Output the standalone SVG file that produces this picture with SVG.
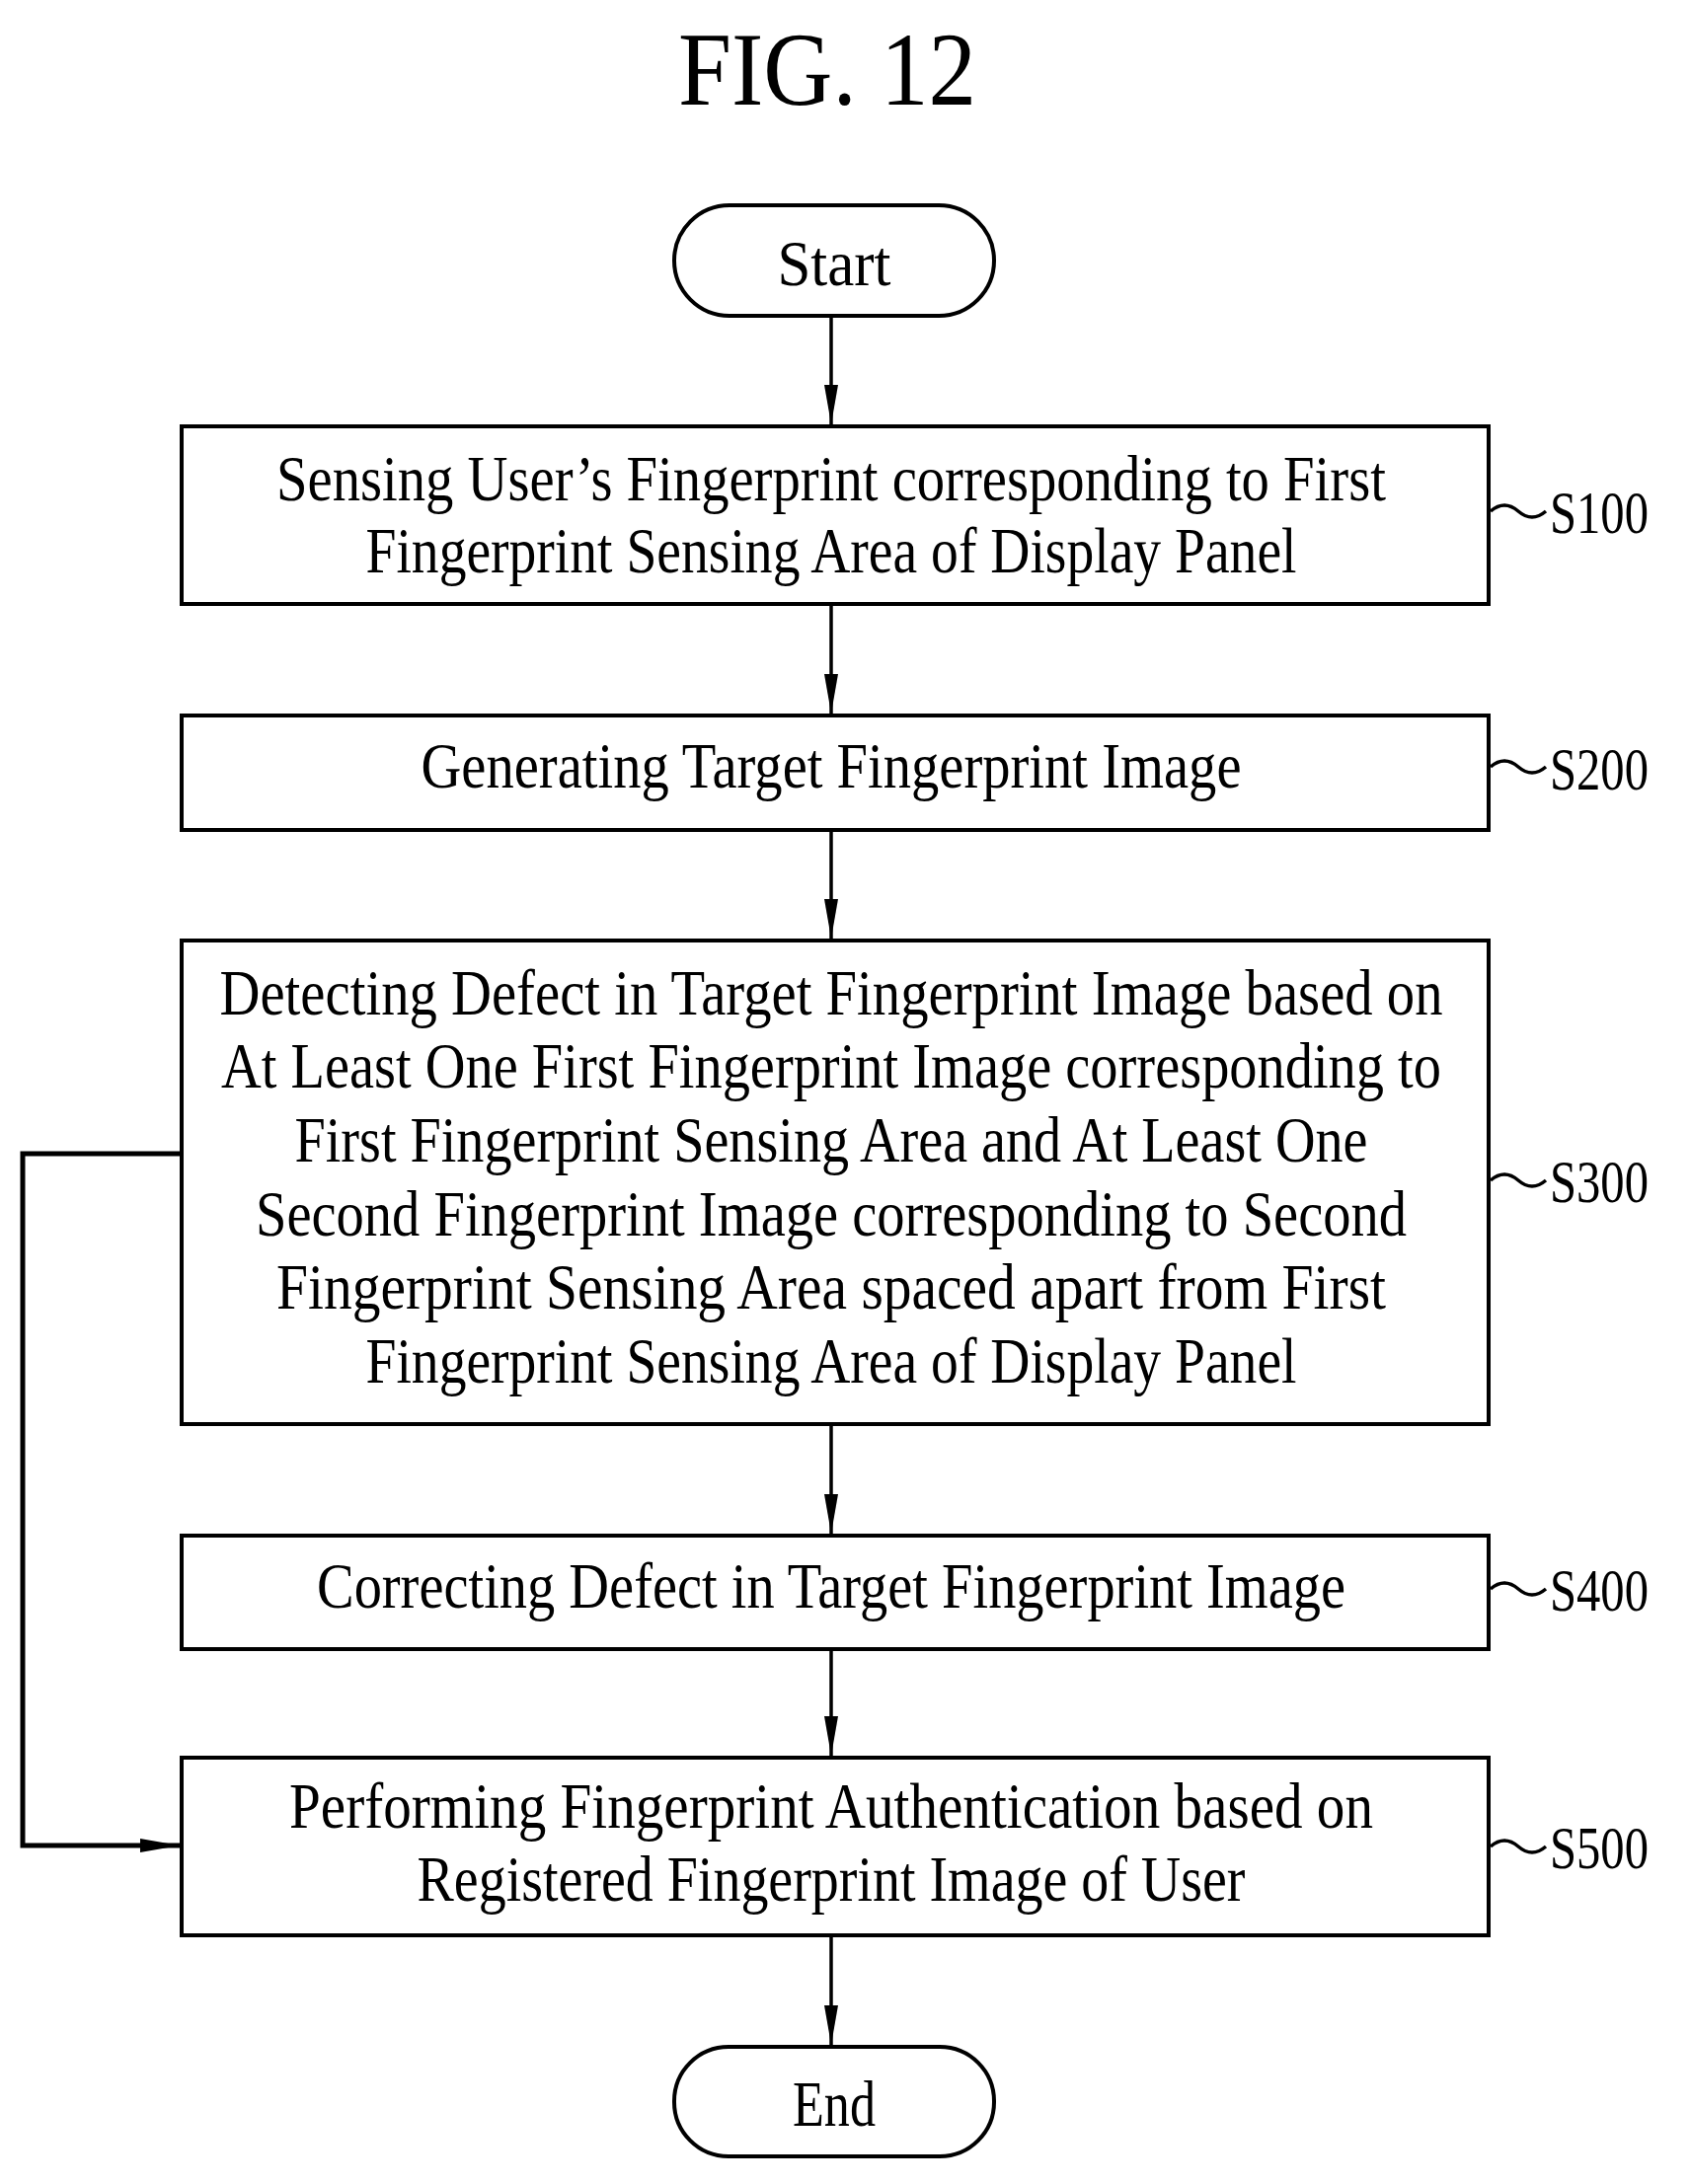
<svg xmlns="http://www.w3.org/2000/svg" width="1712" height="2213" viewBox="0 0 1712 2213">
<style>
text{font-family:"Liberation Serif",serif;fill:#000}
.t{font-size:66px;text-anchor:middle}
.l{font-size:62px}
.b{fill:#fff;stroke:#000;stroke-width:4}
.c{fill:none;stroke:#000;stroke-width:3.5}
</style>
<defs>
<marker id="ah" markerWidth="40" markerHeight="14" refX="40" refY="7" orient="auto" markerUnits="userSpaceOnUse" viewBox="0 0 40 14"><path d="M0,0 L40,7 L0,14 Z" fill="#000"/></marker></defs>
<text x="838" y="106" font-size="105" text-anchor="middle" textLength="302" lengthAdjust="spacingAndGlyphs">FIG. 12</text>
<g id="connectors">
<line class="c" x1="842" y1="320" x2="842" y2="430" marker-end="url(#ah)"/>
<line class="c" x1="842" y1="612" x2="842" y2="723" marker-end="url(#ah)"/>
<line class="c" x1="842" y1="841" x2="842" y2="951" marker-end="url(#ah)"/>
<line class="c" x1="842" y1="1443" x2="842" y2="1554" marker-end="url(#ah)"/>
<line class="c" x1="842" y1="1671" x2="842" y2="1779" marker-end="url(#ah)"/>
<line class="c" x1="842" y1="1961" x2="842" y2="2072" marker-end="url(#ah)"/>
<path class="c" d="M184,1169 H23 V1870 H182" marker-end="url(#ah)" style="stroke-width:5"/>
<path class="c" d="M1510,518 q14,-12 28,0 t28,0"/><path class="c" d="M1510,777 q14,-12 28,0 t28,0"/>
<path class="c" d="M1510,1196 q14,-12 28,0 t28,0"/><path class="c" d="M1510,1610 q14,-12 28,0 t28,0"/>
<path class="c" d="M1510,1871 q14,-12 28,0 t28,0"/>
</g>
<g id="start"><rect class="b" x="683" y="208" width="324" height="112" rx="56"/><text class="t" x="845" y="289" textLength="115" lengthAdjust="spacingAndGlyphs">Start</text></g>
<g id="s100"><rect class="b" x="184" y="432" width="1324" height="180"/>
<text class="t" x="842" y="507" textLength="1124" lengthAdjust="spacingAndGlyphs">Sensing User’s Fingerprint corresponding to First</text>
<text class="t" x="842" y="580" textLength="943" lengthAdjust="spacingAndGlyphs">Fingerprint Sensing Area of Display Panel</text>
<text class="l" x="1570" y="540" textLength="100" lengthAdjust="spacingAndGlyphs">S100</text></g>
<g id="s200"><rect class="b" x="184" y="725" width="1324" height="116"/>
<text class="t" x="842" y="798" textLength="831" lengthAdjust="spacingAndGlyphs">Generating Target Fingerprint Image</text>
<text class="l" x="1570" y="800" textLength="100" lengthAdjust="spacingAndGlyphs">S200</text></g>
<g id="s300"><rect class="b" x="184" y="953" width="1324" height="490"/>
<text class="t" x="842" y="1028" textLength="1239" lengthAdjust="spacingAndGlyphs">Detecting Defect in Target Fingerprint Image based on</text>
<text class="t" x="842" y="1102" textLength="1236" lengthAdjust="spacingAndGlyphs">At Least One First Fingerprint Image corresponding to</text>
<text class="t" x="842" y="1177" textLength="1087" lengthAdjust="spacingAndGlyphs">First Fingerprint Sensing Area and At Least One</text>
<text class="t" x="842" y="1252" textLength="1166" lengthAdjust="spacingAndGlyphs">Second Fingerprint Image corresponding to Second</text>
<text class="t" x="842" y="1326" textLength="1124" lengthAdjust="spacingAndGlyphs">Fingerprint Sensing Area spaced apart from First</text>
<text class="t" x="842" y="1401" textLength="943" lengthAdjust="spacingAndGlyphs">Fingerprint Sensing Area of Display Panel</text>
<text class="l" x="1570" y="1218" textLength="100" lengthAdjust="spacingAndGlyphs">S300</text></g>
<g id="s400"><rect class="b" x="184" y="1556" width="1324" height="115"/>
<text class="t" x="842" y="1629" textLength="1042" lengthAdjust="spacingAndGlyphs">Correcting Defect in Target Fingerprint Image</text>
<text class="l" x="1570" y="1632" textLength="100" lengthAdjust="spacingAndGlyphs">S400</text></g>
<g id="s500"><rect class="b" x="184" y="1781" width="1324" height="180"/>
<text class="t" x="842" y="1852" textLength="1098" lengthAdjust="spacingAndGlyphs">Performing Fingerprint Authentication based on</text>
<text class="t" x="842" y="1926" textLength="839" lengthAdjust="spacingAndGlyphs">Registered Fingerprint Image of User</text>
<text class="l" x="1570" y="1893" textLength="100" lengthAdjust="spacingAndGlyphs">S500</text></g>
<g id="end"><rect class="b" x="683" y="2074" width="324" height="111" rx="55"/><text class="t" x="845" y="2154" textLength="84" lengthAdjust="spacingAndGlyphs">End</text></g>
</svg>
